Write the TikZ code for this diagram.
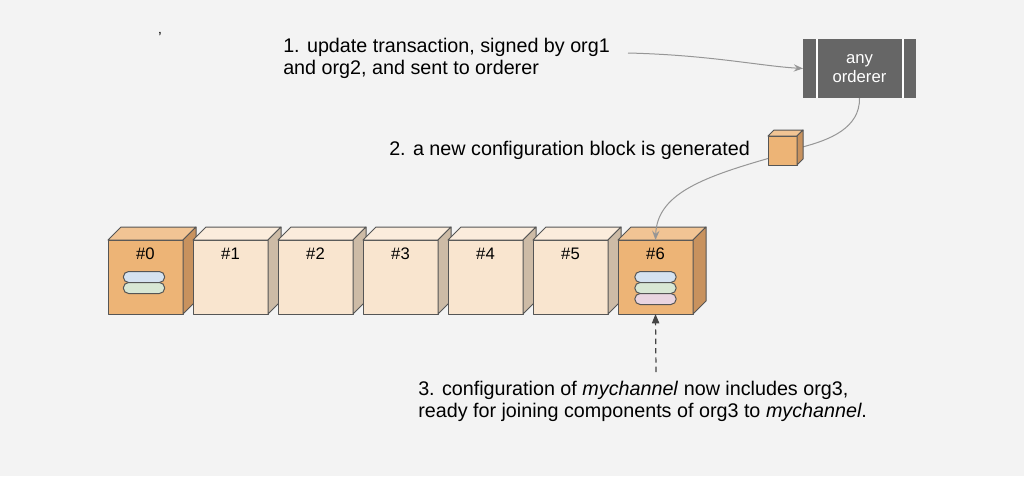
\documentclass[tikz,border=0pt]{standalone}
\usepackage{fontspec}
\setmainfont{Liberation Sans}
\usetikzlibrary{arrows.meta, positioning, calc}
\definecolor{bggrey}{RGB}{243,243,243}
\definecolor{hotfront}{RGB}{237,180,118}
\definecolor{hottop}{RGB}{241,196,148}
\definecolor{hotside}{RGB}{200,146,94}
\definecolor{palefront}{RGB}{249,229,207}
\definecolor{paletop}{RGB}{251,236,220}
\definecolor{paleside}{RGB}{205,187,166}
\definecolor{edgegrey}{RGB}{85,85,85}
\definecolor{ordgrey}{RGB}{102,102,102}
\definecolor{flowgrey}{RGB}{150,150,150}
\definecolor{darkgrey}{RGB}{68,68,68}
\definecolor{pillblue}{RGB}{213,226,240}
\definecolor{pillgreen}{RGB}{216,231,212}
\definecolor{pillpink}{RGB}{233,213,224}
\tikzset{
  face/.style={draw=edgegrey, line width=0.75pt, line join=round},
  blockfront/.style={rectangle, face, minimum width=56.25pt,
    minimum height=55.5pt, inner sep=0pt, outer sep=0pt},
  newfront/.style={rectangle, face, fill=hotfront, minimum width=21.75pt,
    minimum height=21.75pt, inner sep=0pt, outer sep=0pt},
  pill/.style={rectangle, draw=edgegrey, line width=0.75pt, rounded corners=4pt,
    minimum width=31pt, minimum height=8.25pt, inner sep=0pt, outer sep=0pt},
  blocklabel/.style={font=\fontsize{12.5}{14}\selectfont, inner sep=0pt},
  ordbox/.style={rectangle, fill=ordgrey, text=white, align=center,
    minimum width=84.75pt, minimum height=44.25pt, inner sep=0pt, outer sep=0pt,
    font=\fontsize{12.5}{14}\selectfont},
  note/.style={align=left, inner sep=0pt, font=\fontsize{14.8}{16.5}\selectfont},
  flow/.style={-{Stealth[length=7pt, width=5.5pt, inset=2.5pt]}, draw=flowgrey, line width=0.75pt},
  dasharrow/.style={-{Triangle[length=7pt, width=5.5pt]}, draw=darkgrey, line width=0.9pt,
    dash pattern=on 4pt off 3pt}
}
\begin{document}
\begin{tikzpicture}[x=0.75pt, y=-0.75pt]
  \useasboundingbox[fill=bggrey] (0,0) rectangle (1024,476);

  % texts
  \node[font=\fontsize{11}{11}\selectfont, inner sep=0pt] (tick) at (160,37) {'};
  \node[note, anchor=base west] (t1) at (283,74)
    {1. update transaction, signed by org1\\and org2, and sent to orderer};
  \node[note, anchor=base west] (t2) at (389,155) {2. a new configuration block is generated};
  \node[note, anchor=base west] (t3) at (418,417)
    {3. configuration of \textit{mychannel} now includes org3,\\ready for joining components of org3 to \textit{mychannel}.};

  % orderer
  \node[ordbox] (ord) at (859.5,68.5) {any\\orderer};
  \draw[white, line width=1pt] ($(ord.north west)+(14,0)$) -- ($(ord.south west)+(14,0)$);
  \draw[white, line width=1pt] ($(ord.north east)+(-13,0)$) -- ($(ord.south east)+(-13,0)$);

  % chain of blocks
  \foreach \i/\kind in {0/hot,1/pale,2/pale,3/pale,4/pale,5/pale,6/hot} {
    \node[blockfront, fill=\kind front] (b\i) at (145.5+85*\i,277) {};
    \draw[face, fill=\kind top] (b\i.north west) -- ++(13,-13) -- ++(75,0)
      -- (b\i.north east) -- cycle;
    \draw[face, fill=\kind side] (b\i.north east) -- ++(13,-13) -- ++(0,74)
      -- (b\i.south east) -- cycle;
    \node[blocklabel] (n\i) at ($(b\i.north)+(0,14)$) {\#\i};
  }

  % config entries
  \node[pill, fill=pillblue] (p0a) at ($(b0.center)+(-1.5,0)$) {};
  \node[pill, fill=pillgreen, below=0pt of p0a] (p0b) {};
  \node[pill, fill=pillblue] (p6a) at ($(b6.center)+(0,0)$) {};
  \node[pill, fill=pillgreen, below=0pt of p6a] (p6b) {};
  \node[pill, fill=pillpink, below=0pt of p6b] (p6c) {};

  % new block and connectors
  \coordinate (nbc) at (782.5,150.5);
  \coordinate (a1) at (628,53);
  \draw[flow] (a1) .. controls (710,55) and (760,66) .. (ord.west);
  \draw[flow, -] (ord.south) .. controls (860,128) and (830,140) .. ($(nbc)+(18,-3)$);
  \node[newfront] (nb) at (nbc) {};
  \draw[face, fill=hottop] (nb.north west) -- ++(6,-6) -- ++(29,0)
    -- (nb.north east) -- cycle;
  \draw[face, fill=hotside] (nb.north east) -- ++(6,-6) -- ++(0,29)
    -- (nb.south east) -- cycle;
  \draw[flow] ($(nb.west)+(0,8)$) .. controls (700,178) and (657,195) .. (b6.north);
  \coordinate (c3) at (656,372);
  \draw[dasharrow] (c3) -- (b6.south);
\end{tikzpicture}
\end{document}
